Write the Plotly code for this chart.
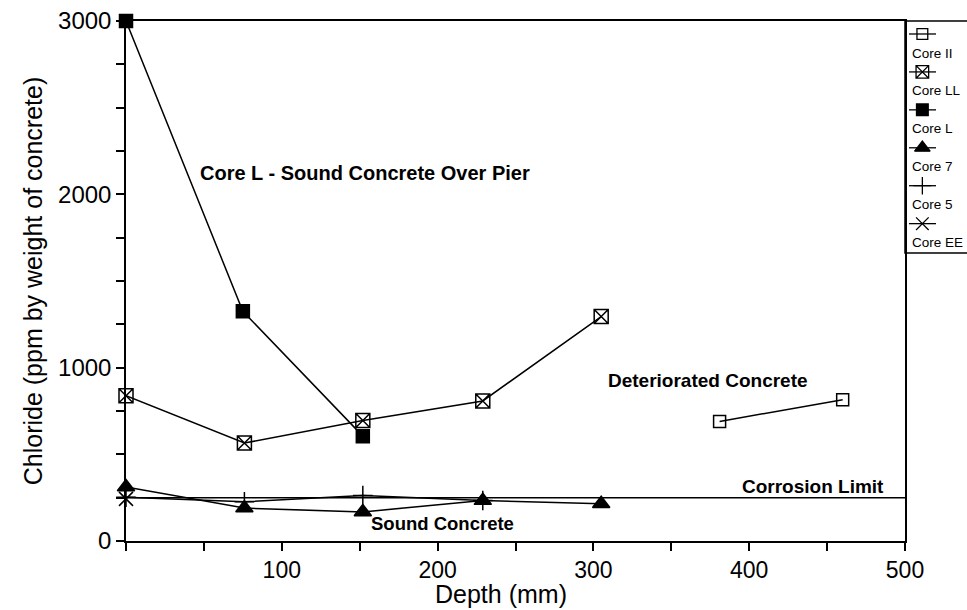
import plotly.graph_objects as go

# Chloride content versus depth for each core
depth_II = [381, 460]
chloride_II = [690, 815]

depth_LL = [0, 76, 152, 229, 305]
chloride_LL = [838, 565, 695, 808, 1295]

depth_L = [0, 75, 152]
chloride_L = [3000, 1325, 605]

depth_7 = [0, 76, 152, 229, 305]
chloride_7 = [312, 190, 168, 233, 215]

depth_5 = [0, 76, 152, 229]
chloride_5 = [252, 226, 262, 234]

depth_EE = [0]
chloride_EE = [243]

corrosion_limit = 250
x_range = [0, 500]
y_range = [0, 3000]

x_ticks = [100, 200, 300, 400, 500]
y_ticks = [0, 1000, 2000, 3000]

series = [
    ("Core II", depth_II, chloride_II, "square-open", 12),
    ("Core LL", depth_LL, chloride_LL, "square-x-open", 14),
    ("Core L", depth_L, chloride_L, "square", 13),
    ("Core 7", depth_7, chloride_7, "triangle-up", 15),
    ("Core 5", depth_5, chloride_5, "cross-thin-open", 14),
    ("Core EE", depth_EE, chloride_EE, "x-thin-open", 14),
]

FONT = "Liberation Sans, Arial, sans-serif"
BLACK = "#000000"

fig = go.Figure()

# corrosion threshold
fig.add_trace(go.Scatter(
    x=x_range, y=[corrosion_limit, corrosion_limit], mode="lines",
    line=dict(color=BLACK, width=1.5), showlegend=False, hoverinfo="skip",
))

for name, xs, ys, sym, size in series:
    fig.add_trace(go.Scatter(
        x=xs, y=ys, name=name, mode="lines+markers",
        line=dict(color=BLACK, width=1.5),
        marker=dict(symbol=sym, size=size, color=BLACK,
                    line=dict(color=BLACK, width=1.5)),
        cliponaxis=False, showlegend=False,
    ))

# legend keys drawn on a small side axis: symbol above its label
for i, (name, xs, ys, sym, size) in enumerate(series):
    ky = 0.944 - i * 0.1635
    fig.add_trace(go.Scatter(
        x=[0.065, 0.5], y=[ky, ky], mode="lines",
        line=dict(color=BLACK, width=1.3),
        xaxis="x2", yaxis="y2", showlegend=False, hoverinfo="skip",
    ))
    fig.add_trace(go.Scatter(
        x=[0.28], y=[ky], mode="markers",
        marker=dict(symbol=sym, size=size * 0.9, color=BLACK,
                    line=dict(color=BLACK, width=1.3)),
        xaxis="x2", yaxis="y2", showlegend=False, hoverinfo="skip",
        cliponaxis=False,
    ))
    fig.add_annotation(
        x=0.08, y=ky - 0.082, xref="x2", yref="y2", text=name,
        showarrow=False, xanchor="left", yanchor="middle",
        font=dict(family=FONT, size=13.5, color=BLACK),
    )

labels = [
    ("Core L - Sound Concrete Over Pier", 46, 2121, "left", 20),
    ("Deteriorated Concrete", 308, 925, "left", 19),
    ("Corrosion Limit", 488, 316, "right", 19),
    ("Sound Concrete", 156, 103, "left", 18.5),
]
for text, x, y, anchor, fs in labels:
    fig.add_annotation(
        x=x, y=y, xref="x", yref="y", text="<b>%s</b>" % text,
        showarrow=False, xanchor=anchor, yanchor="middle",
        font=dict(family=FONT, size=fs, color=BLACK),
    )

W, H = 967, 610
ML, MR, MT, MB = 126, 0, 21, 69
pw, ph = W - ML - MR, H - MT - MB
x_dom_end = (905 - ML) / pw
leg_bottom = (541 - 253) / ph

# x-axis title
fig.add_annotation(
    x=(501 - ML) / pw, y=-(594 - 541) / ph, xref="paper", yref="paper",
    text="Depth (mm)", showarrow=False, xanchor="center", yanchor="middle",
    font=dict(family=FONT, size=25, color=BLACK),
)

# legend frame
fig.add_shape(type="rect", xref="paper", yref="paper",
              x0=x_dom_end, x1=1.02, y0=leg_bottom, y1=1,
              line=dict(color=BLACK, width=1.5))

fig.update_layout(
    width=W, height=H,
    margin=dict(l=ML, r=MR, t=MT, b=MB, autoexpand=False),
    paper_bgcolor="white", plot_bgcolor="white",
    font=dict(family=FONT, color=BLACK),
    xaxis=dict(
        domain=[0, x_dom_end], range=x_range, automargin=False,
        tickvals=x_ticks, ticks="outside", ticklen=8, tickwidth=1.5,
        tickcolor=BLACK, showline=True, linecolor=BLACK, linewidth=1.5,
        mirror=True, showgrid=False, zeroline=False,
        tickfont=dict(size=23, family=FONT),
        minor=dict(dtick=50, ticks="outside", ticklen=8, tickwidth=1.5,
                   tickcolor=BLACK, showgrid=False),
    ),
    yaxis=dict(
        domain=[0, 1], range=y_range, automargin=False,
        tickvals=y_ticks, ticks="outside", ticklen=8, tickwidth=1.5,
        tickcolor=BLACK, showline=True, linecolor=BLACK, linewidth=1.5,
        mirror=True, showgrid=False, zeroline=False,
        tickfont=dict(size=24, family=FONT),
        minor=dict(dtick=250, ticks="outside", ticklen=8, tickwidth=1.5,
                   tickcolor=BLACK, showgrid=False),
        title=dict(text="Chloride (ppm by weight of concrete)",
                   font=dict(size=25, family=FONT), standoff=8),
    ),
    xaxis2=dict(domain=[x_dom_end, 1], range=[0, 1], visible=False,
                anchor="y2", fixedrange=True, automargin=False),
    yaxis2=dict(domain=[leg_bottom, 1], range=[0, 1], visible=False,
                anchor="x2", fixedrange=True, automargin=False),
    showlegend=False,
)

fig.write_html("out.html")
